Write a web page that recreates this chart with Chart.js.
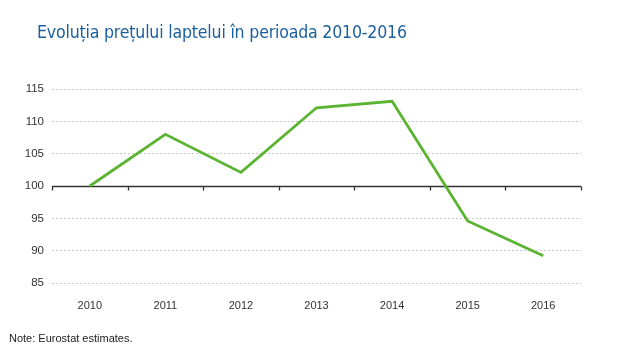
<!DOCTYPE html>
<html>
<head>
<meta charset="utf-8">
<script src="https://cdn.jsdelivr.net/npm/chart.js@4.4.1/dist/chart.umd.min.js"></script>
<style>
  html, body { margin: 0; padding: 0; background: #fff; }
  #wrap { position: relative; width: 640px; height: 360px; overflow: hidden; }
  #title { position: absolute; left: 37px; top: 21px; font-family: "DejaVu Sans Condensed", "DejaVu Sans", sans-serif; font-size: 18.5px; letter-spacing: -0.2px; color: #1b5f9f; white-space: nowrap; transform: scaleX(0.95); transform-origin: 0 0; }
  #note { position: absolute; left: 9px; top: 332px; font-family: "Liberation Sans", Arial, sans-serif; font-size: 11px; color: #222; }
  #box { position: absolute; left: 0; top: 0; width: 640px; height: 360px; }
</style>
</head>
<body>
<div id="wrap">
  <div id="box"><canvas id="chart-line"></canvas></div>
  <div id="title">Evoluția prețului laptelui în perioada 2010-2016</div>
  <div id="note">Note: Eurostat estimates.</div>
</div>
<script>
// date
const years = ["2010", "2011", "2012", "2013", "2014", "2015", "2016"];
const pret = [100, 108, 102.1, 112.1, 113.1, 94.6, 89.2];
const yTicks = [85, 90, 95, 100, 105, 110, 115];
const baza = 100;

// linia de baza (100) solida + liniute intre ani
const linieBaza = {
    id: "linieBaza",
    beforeDatasetsDraw(chart) {
        const { ctx, chartArea, scales } = chart;
        const y = Math.round(scales.y.getPixelForValue(baza)) + 0.5;
        ctx.save();
        ctx.strokeStyle = "#333";
        ctx.lineWidth = 1.3;
        ctx.beginPath();
        ctx.moveTo(chartArea.left, y);
        ctx.lineTo(chartArea.right, y);
        for (let i = 0; i <= years.length; i++) {
            const x = Math.round(scales.x.getPixelForValue(i - 0.5)) + 0.5;
            ctx.moveTo(x, y);
            ctx.lineTo(x, y + 4);
        }
        ctx.stroke();
        ctx.restore();
    }
};

new Chart(document.getElementById("chart-line"), {
    type: "line",
    data: {
        labels: years,
        datasets: [{
            data: pret,
            borderColor: "#5ab431",
            borderWidth: 2.8,
            pointRadius: 0,
            tension: 0,
            fill: false
        }]
    },
    options: {
        responsive: true,
        maintainAspectRatio: false,
        animation: false,
        layout: { padding: { left: 0, right: 59, top: 89, bottom: 0 } },
        plugins: { legend: { display: false }, tooltip: { enabled: false } },
        scales: {
            x: {
                offset: true,
                grid: { display: false },
                border: { display: false },
                ticks: { color: "#333", font: { family: "Liberation Sans", size: 11 }, padding: 8 },
                afterFit(s) { s.height = 77; }
            },
            y: {
                min: 85,
                max: 115,
                afterBuildTicks(s) { s.ticks = yTicks.map(v => ({ value: v })); },
                grid: {
                    color: ctx => ctx.tick && ctx.tick.value === baza ? "rgba(0,0,0,0)" : "#c8c8c8",
                    drawTicks: false,
                    lineWidth: 1
                },
                border: { display: false, dash: [2, 2] },
                ticks: { color: "#333", font: { family: "Liberation Sans", size: 11.5 }, padding: 8 },
                afterFit(s) { s.width = 52; }
            }
        }
    },
    plugins: [linieBaza]
});
</script>
</body>
</html>
